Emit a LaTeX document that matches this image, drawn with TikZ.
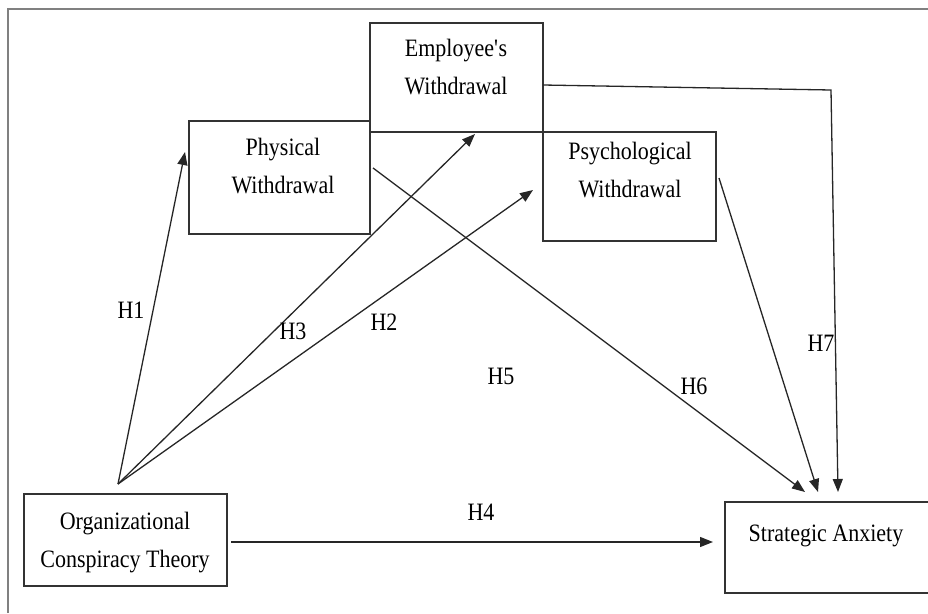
\documentclass[tikz,border=0pt]{standalone}
\usepackage{fontspec}
\setmainfont{Liberation Serif}[FakeStretch=0.88]
\usetikzlibrary{arrows.meta}
\begin{document}
\begin{tikzpicture}[x=1pt,y=-1pt,
  box/.style={draw=black!80, line width=1.3pt, rectangle, inner sep=0pt},
  lbl/.style={align=center, font=\fontsize{25}{38}\selectfont, inner sep=0pt},
  hyp/.style={font=\fontsize{25}{30}\selectfont, inner sep=0pt},
  link/.style={draw=black!85, line width=1.3pt, -{Triangle[length=13pt,width=10pt]}},
  plain/.style={draw=black!85, line width=1.3pt}]
\useasboundingbox (0,0) rectangle (928,613);
% frame edges
\draw[black!50, line width=1.2pt] (8,613) -- (8,9) -- (928,9);

% boxes
\node[box, minimum width=173pt, minimum height=109pt] (emp)  at (456.5,77.5) {};
\node[box, minimum width=181pt, minimum height=113pt] (phys) at (279.5,177.5) {};
\node[box, minimum width=173pt, minimum height=109pt] (psy)  at (629.5,186.5) {};
\node[box, minimum width=203pt, minimum height=92pt]  (oct)  at (125.5,540) {};
\node[box, minimum width=205pt, minimum height=91pt]  (sa)   at (827.5,547.5) {};

% box texts
\node[lbl] (empT)  at (456,67)  {Employee\textquotesingle s\\Withdrawal};
\node[lbl] (physT) at (283,166) {Physical\\Withdrawal};
\node[lbl] (psyT)  at (630,170) {Psychological\\Withdrawal};
\node[lbl] (octT)  at (125,543) {Organizational\\Conspiracy Theory};
\node[lbl] (saT)   at (826,536) {Strategic Anxiety};

% shared origin of the three upward arrows
\coordinate (src) at (118,484);
\coordinate (physIn) at (185,152);
\coordinate (empIn)  at (475,134);
\coordinate (psyIn)  at (533,190);
\coordinate (physOut) at (373,168);
\coordinate (psyOut)  at (719,178);
\coordinate (empOut)  at (543,85);
\coordinate (bend)    at (831,90);
\coordinate (saIn5) at (805,492);
\coordinate (saIn6) at (818,492);
\coordinate (saIn7) at (838,492);
\coordinate (octOut) at (231,542);
\coordinate (saIn4)  at (713,542);

% connectors
\draw[link] (src) -- (physIn);
\draw[link] (src) -- (empIn);
\draw[link] (src) -- (psyIn);
\draw[link] (physOut) -- (saIn5);
\draw[link] (psyOut) -- (saIn6);
\draw[link] (empOut) -- (bend) -- (saIn7);
\draw[link] (octOut) -- (saIn4);

% hypothesis labels
\node[hyp] (h1) at (131,310) {H1};
\node[hyp] (h3) at (293,331) {H3};
\node[hyp] (h2) at (384,322) {H2};
\node[hyp] (h5) at (501,376) {H5};
\node[hyp] (h6) at (694,386) {H6};
\node[hyp] (h7) at (821,343) {H7};
\node[hyp] (h4) at (481,512) {H4};
\end{tikzpicture}
\end{document}
